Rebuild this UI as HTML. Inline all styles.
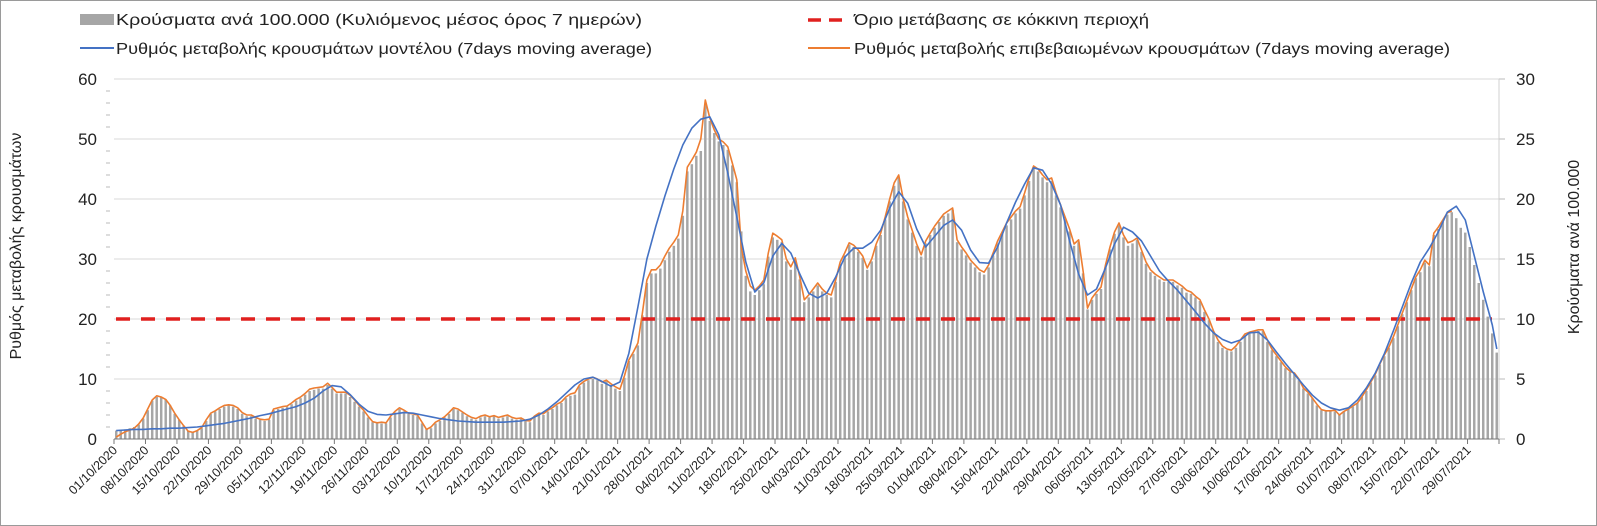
<!DOCTYPE html>
<html><head><meta charset="utf-8"><style>
html,body{margin:0;padding:0;background:#fff;}
svg{display:block;font-family:"Liberation Sans",sans-serif;}
</style></head><body>
<svg id="chart" width="1597" height="526" viewBox="0 0 1597 526" xmlns="http://www.w3.org/2000/svg">
<rect x="0.5" y="0.5" width="1596" height="525" fill="#fff" stroke="#9a9a9a"/>
<g id="grid"></g>
<g id="bars"></g>
<g id="axes"></g>
<g id="lines"></g>
<g id="legend">
  <g>
    <rect x="80" y="14" width="34" height="11" fill="#a6a6a6"/>
    <text x="116" y="25" font-size="16" fill="#222" textLength="526" lengthAdjust="spacingAndGlyphs">Κρούσματα ανά 100.000 (Κυλιόμενος μέσος όρος 7 ημερών)</text>
  </g>
  <g>
    <line x1="80" y1="48" x2="114" y2="48" stroke="#4472c4" stroke-width="2"/>
    <text x="116" y="54" font-size="16" fill="#222" textLength="536" lengthAdjust="spacingAndGlyphs">Ρυθμός μεταβολής κρουσμάτων μοντέλου (7days moving average)</text>
  </g>
  <g>
    <line x1="808" y1="20" x2="850" y2="20" stroke="#e0201f" stroke-width="3.5" stroke-dasharray="13,8"/>
    <text x="854" y="25" font-size="16" fill="#222" textLength="295" lengthAdjust="spacingAndGlyphs">Όριο μετάβασης σε κόκκινη περιοχή</text>
  </g>
  <g>
    <line x1="808" y1="48" x2="850" y2="48" stroke="#ed7d31" stroke-width="2"/>
    <text x="854" y="54" font-size="16" fill="#222" textLength="596" lengthAdjust="spacingAndGlyphs">Ρυθμός μεταβολής επιβεβαιωμένων κρουσμάτων (7days moving average)</text>
  </g>
</g>
<text transform="translate(21,246) rotate(-90)" text-anchor="middle" font-size="16" fill="#222">Ρυθμός μεταβολής κρουσμάτων</text>
<text transform="translate(1579,247) rotate(-90)" text-anchor="middle" font-size="16" fill="#222">Κρούσματα ανά 100.000</text>
</svg>
<script>
const leftTicks = [0,10,20,30,40,50,60];
const rightTicks = [0,5,10,15,20,25,30];
const threshold = 20;
const startDate = [2020,9,1];
const bars = [
0.7,0.7,0.8,0.9,1.0,1.2,1.7,2.4,3.2,3.5,
3.5,3.3,2.8,2.1,1.6,1.1,0.7,0.6,0.7,0.9,
1.5,2.1,2.3,2.5,2.7,2.8,2.7,2.5,2.1,1.9,
1.9,1.7,1.6,1.5,1.6,2.4,2.5,2.6,2.7,2.9,
3.2,3.4,3.7,4.0,4.1,4.2,4.2,4.5,4.2,3.8,
3.8,3.8,3.5,3.1,2.7,2.3,1.8,1.4,1.3,1.3,
1.3,1.8,2.2,2.5,2.3,2.1,2.0,1.9,1.3,0.8,
0.9,1.3,1.5,1.8,2.1,2.5,2.4,2.2,1.9,1.7,
1.6,1.8,1.9,1.8,1.9,1.7,1.8,1.9,1.7,1.6,
1.7,1.5,1.4,1.8,2.1,2.0,2.3,2.5,2.8,3.0,
3.4,3.6,3.7,4.4,4.7,4.9,5.0,4.9,4.6,4.8,
4.5,4.2,4.0,5.1,6.5,7.1,7.8,10.3,13.0,13.8,
13.8,14.2,14.9,15.6,16.1,16.7,18.6,22.3,22.9,23.6,
24.0,27.9,26.5,25.5,24.8,24.5,24.1,22.8,21.4,17.3,
13.6,12.3,12.0,12.4,12.9,15.2,16.8,16.6,16.4,14.8,
14.1,14.9,13.3,11.4,11.8,12.3,12.8,12.3,12.0,11.8,
13.1,14.6,15.3,16.2,16.0,15.6,15.1,14.1,14.8,16.1,
17.0,18.3,19.8,21.1,21.8,19.8,18.3,17.2,16.1,15.2,
16.3,17.0,17.6,18.1,18.6,18.8,19.1,16.4,15.8,15.3,
14.7,14.3,13.9,13.7,14.3,15.3,16.3,17.1,17.8,18.3,
18.8,19.2,20.3,21.5,22.5,22.3,21.8,21.4,21.5,20.3,
19.3,18.3,17.3,16.1,16.4,13.8,10.8,11.6,12.1,12.5,
14.3,15.8,17.1,17.8,16.8,16.1,16.3,16.6,15.6,14.6,
13.9,13.6,13.3,13.1,13.1,13.1,12.8,12.6,12.2,12.1,
11.8,11.5,10.6,9.9,8.9,8.1,7.6,7.4,7.3,7.6,
8.1,8.6,8.8,8.9,9.0,9.0,8.1,7.4,6.9,6.4,
5.9,5.6,5.4,4.9,4.2,3.8,3.4,2.8,2.4,2.3,
2.3,2.3,2.0,2.3,2.5,2.7,3.0,3.5,4.0,4.7,
5.3,6.2,6.9,7.6,8.4,9.4,10.4,11.4,12.4,13.4,
13.9,14.7,14.4,17.0,17.5,18.1,18.7,18.9,18.4,17.6,
17.2,16.0,14.5,13.0,11.6,10.2,8.8,7.2];
const confirmed = [
0.3,0.8,1.2,1.5,1.8,2.5,3.5,5,6.5,7.2,
7.0,6.6,5.6,4.3,3.2,2.2,1.3,1.1,1.4,1.9,
3.2,4.3,4.7,5.2,5.6,5.7,5.6,5.2,4.4,4.0,
4.0,3.6,3.3,3.2,3.3,5.0,5.2,5.4,5.5,6.0,
6.6,7.0,7.6,8.3,8.5,8.6,8.7,9.3,8.6,7.8,
7.8,7.8,7.3,6.5,5.6,4.8,3.8,2.9,2.7,2.8,
2.7,3.8,4.6,5.2,4.8,4.3,4.2,4.0,2.8,1.6,
2.0,2.8,3.2,3.7,4.4,5.2,5.0,4.5,4.0,3.6,
3.4,3.8,4.0,3.7,3.9,3.6,3.8,4.0,3.6,3.4,
3.5,3.1,3.0,3.8,4.3,4.2,4.8,5.2,5.8,6.2,
7.0,7.5,7.7,9.0,9.6,10.0,10.3,10.0,9.5,9.8,
9.2,8.7,8.3,10.5,13.2,14.5,16.0,21,26.5,28.2,
28.2,29.0,30.5,31.8,32.8,34.0,38,45.3,46.5,47.8,
50,56.5,53.5,51.5,50,49.5,48.7,46,43.2,32,
28,25.5,24.8,25.5,26.5,31,34.3,33.8,33.2,30,
28.7,30.2,27,23.2,24,25,26,25,24.3,24,
26.5,29.5,31,32.7,32.3,31.5,30.5,28.5,30,32.5,
34.3,37,40,42.7,44,40,37,34.8,32.5,30.7,
33,34.3,35.5,36.5,37.5,38,38.5,33.2,32,31,
29.8,29,28.2,27.8,29,31,33,34.5,36,37,
38,38.7,41,43.5,45.5,45,44,43.2,43.5,41,
39,37,35,32.5,33.2,28,21.8,23.5,24.5,25.3,
29,32,34.5,36,34,32.7,33,33.5,31.5,29.5,
28.2,27.5,27,26.5,26.5,26.5,26,25.5,24.8,24.5,
23.8,23.2,21.5,20,18,16.5,15.5,15,14.8,15.5,
16.5,17.5,17.8,18,18.2,18.2,16.5,15,14,13,
12,11.3,11,10,8.5,7.8,6.8,5.8,4.9,4.7,
4.7,4.8,4.0,4.6,5.0,5.5,6.0,7.0,8.2,9.5,
10.8,12.5,14,15.3,17,19,21,23,25,27,
28.2,29.8,29,34.3,35.3,36.5,37.7,38];
const modelStep = 2;
const model = [
1.4,1.5,1.6,1.6,1.7,1.7,1.8,1.8,1.9,2.0,
2.2,2.4,2.6,2.9,3.2,3.5,3.9,4.2,4.6,5.0,
5.4,6.0,6.8,8.0,8.9,8.7,7.4,5.8,4.6,4.1,
4.0,4.2,4.4,4.3,4.0,3.7,3.4,3.2,3.0,2.9,
2.8,2.8,2.8,2.8,2.9,3.0,3.3,4.0,5.0,6.2,
7.6,9.0,10.0,10.3,9.6,8.8,9.5,14.3,22,30,
35.5,40.5,45,49,51.8,53.3,53.7,50.7,44.3,37,
29.5,24.5,26,30.5,32.6,31,27.5,24.3,23.5,24.3,
27,30.3,31.8,31.8,32.8,34.8,38.5,41.2,39.3,35,
32,33.8,35.6,36.5,34.8,31.5,29.4,29.3,32,36,
39.5,42.5,45.2,44.8,42.5,39,33,27.5,24,25,
28.5,32.5,35.3,34.5,33,30.5,28,26.3,24.8,23,
21.2,19.3,17.7,16.6,16,16.5,17.7,17.8,16.5,14.5,
12.6,10.8,9.0,7.3,6.0,5.2,4.8,5.2,6.5,8.5,
11.0,14.2,18.0,22.0,26.0,29.5,31.8,34.5,37.8,38.8,
36.5,30.5,24.5,19,15];

const NS='http://www.w3.org/2000/svg';
const X0=114, X1=1499, Y0=439, YT=79, N=bars.length;
const bw=(X1-X0)/N;
function xBand(i){return X0+i*bw;}
function xCenter(i){return X0+(i+0.5)*bw;}
function yLeft(v){return Y0-(v/60)*(Y0-YT);}
function yRight(v){return Y0-(v/30)*(Y0-YT);}
function mk(tag,attrs,parent){const e=document.createElementNS(NS,tag);for(const k in attrs)e.setAttribute(k,attrs[k]);parent.appendChild(e);return e;}
const grid=document.getElementById('grid'),barsG=document.getElementById('bars'),axes=document.getElementById('axes'),lines=document.getElementById('lines');

leftTicks.forEach(v=>{
  if(v>0){const g=mk('line',{x1:X0,x2:X1,y1:yLeft(v),y2:yLeft(v),stroke:'#d9d9d9','stroke-width':1},grid);
  
  }
  const t=mk('text',{x:97,y:yLeft(v)+6,'text-anchor':'end','font-size':17,fill:'#222'},axes);
  t.textContent=v;
  
  
});
for(let v=2;v<60;v+=2){if(v%10===0)continue;
  const m=mk('line',{x1:106,x2:110,y1:yLeft(v),y2:yLeft(v),stroke:'#bbb','stroke-width':1},axes);
  
  }
rightTicks.forEach(v=>{
  const tk=mk('line',{x1:X1,x2:X1+6,y1:yRight(v),y2:yRight(v),stroke:'#bbb','stroke-width':1},axes);
  
  
  const t=mk('text',{x:1516,y:yRight(v)+6,'font-size':17,fill:'#222'},axes);
  t.textContent=v;
  
  
});
const ra=mk('line',{x1:X1,x2:X1,y1:YT,y2:Y0,stroke:'#d0d0d0','stroke-width':1},axes);



bars.forEach((v,i)=>{
  const r=mk('rect',{x:xBand(i)+1,y:yRight(v),width:bw*0.55,height:Y0-yRight(v),fill:'#a6a6a6'},barsG);
  
  
});

const xa=mk('line',{x1:X0,x2:X1,y1:Y0,y2:Y0,stroke:'#777','stroke-width':1},axes);


for(let i=0;i<=N;i+=7){
  const x=xBand(i);
  const tk=mk('line',{x1:x,x2:x,y1:Y0,y2:Y0+5,stroke:'#777','stroke-width':1},axes);
  
  
  if(i<N-5){
    const d=new Date(startDate[0],startDate[1],startDate[2]+i);
    const s=String(d.getDate()).padStart(2,'0')+'/'+String(d.getMonth()+1).padStart(2,'0')+'/'+d.getFullYear();
    const t=mk('text',{x:0,y:0,'text-anchor':'end','font-size':12.5,fill:'#222',transform:'translate('+(x+4)+','+(Y0+12)+') rotate(-45)'},axes);
    t.textContent=s;
    
    
  }
}

const th=mk('line',{x1:X0+2,x2:1492,y1:yLeft(threshold),y2:yLeft(threshold),stroke:'#e0201f','stroke-width':3.5,'stroke-dasharray':'14,11'},lines);



const op=confirmed.map((v,i)=>xCenter(i).toFixed(1)+','+yLeft(v).toFixed(1)).join(' ');
const ol=mk('polyline',{points:op,fill:'none',stroke:'#ed7d31','stroke-width':1.6,'stroke-linejoin':'round'},lines);



const mp=model.map((v,k)=>{const i=Math.min(k*modelStep,N-1);return xCenter(i).toFixed(1)+','+yLeft(v).toFixed(1);}).join(' ');
const ml=mk('polyline',{points:mp,fill:'none',stroke:'#4472c4','stroke-width':1.6,'stroke-linejoin':'round'},lines);


</script>
</body></html>
